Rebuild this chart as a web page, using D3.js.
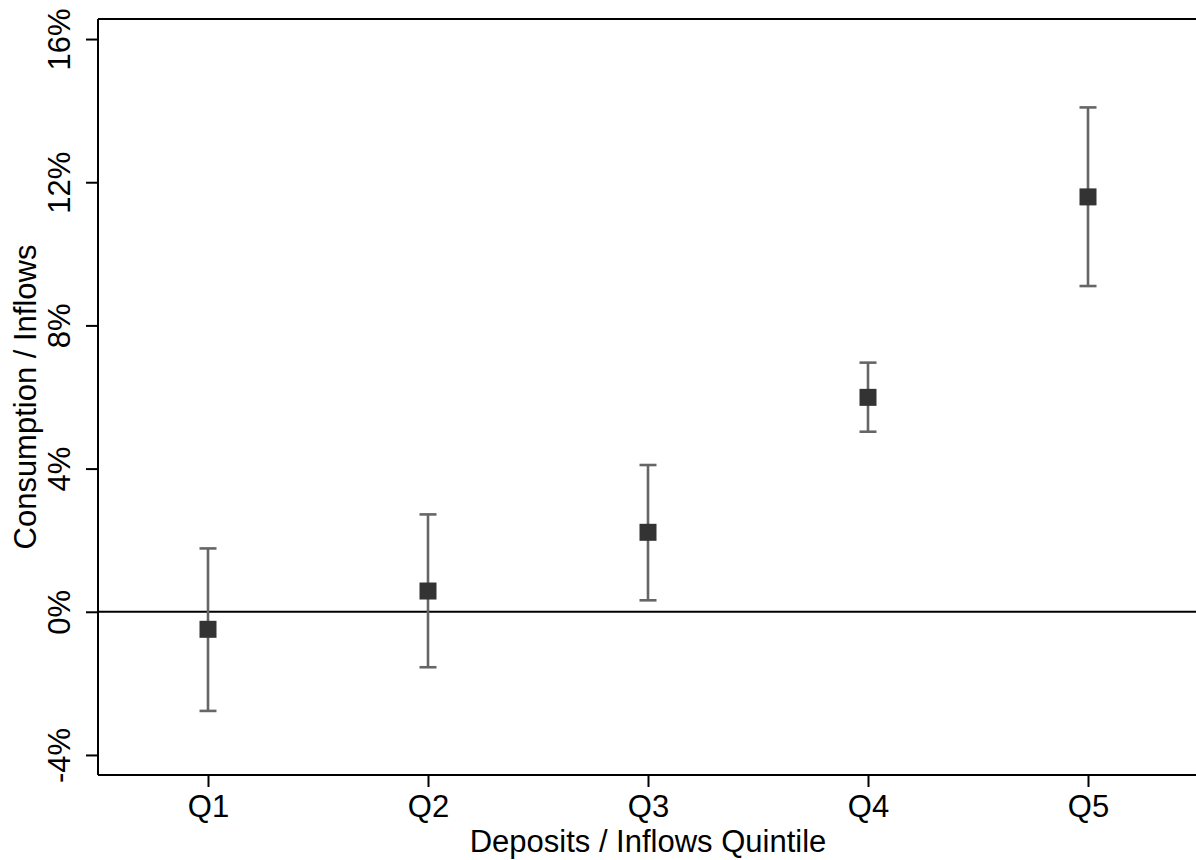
<!DOCTYPE html>
<html>
<head>
<meta charset="utf-8">
<script src="https://cdn.jsdelivr.net/npm/d3@7"></script>
<style>
  html, body { margin: 0; padding: 0; background: #fff; }
  svg { display: block; font-family: "Liberation Sans", Arial, sans-serif; }
</style>
</head>
<body>
<svg id="chart" width="1196" height="860"></svg>
<script>
// Quintiles of deposits / inflows, with point estimates and 95% CIs (in %)
const categories = ["Q1", "Q2", "Q3", "Q4", "Q5"];
const estimates  = [-0.49, 0.58, 2.22, 5.99, 11.59];
const ciLower    = [-2.77, -1.55, 0.32, 5.03, 9.10];
const ciUpper    = [1.77, 2.72, 4.10, 6.96, 14.09];
const yTicks     = [-4, 0, 4, 8, 12, 16];

const svg = d3.select("#chart");
const plot = { left: 98, right: 1198, top: 19, bottom: 775 };

const x = d3.scaleLinear().domain([0.5, 5.5]).range([plot.left, plot.right]);
const y = d3.scaleLinear().domain([-4.56, 16.56]).range([plot.bottom, plot.top]);

const fontSize = 31;
const fontFamily = "Liberation Sans, Arial, sans-serif";

// Top border of the plot region
svg.append("line")
  .attr("x1", plot.left).attr("x2", plot.right)
  .attr("y1", plot.top).attr("y2", plot.top)
  .attr("stroke", "#000").attr("stroke-width", 2);

// Y axis
const yAxis = svg.append("g")
  .attr("transform", `translate(${plot.left},0)`)
  .call(d3.axisLeft(y).tickValues(yTicks).tickSize(12).tickSizeOuter(0)
        .tickFormat(d => d + "%"));
yAxis.select(".domain").attr("stroke", "#000").attr("stroke-width", 2)
  .attr("d", `M0,${plot.top}V${plot.bottom}`);
yAxis.selectAll(".tick line").attr("stroke", "#000").attr("stroke-width", 2);
yAxis.selectAll(".tick text")
  .attr("font-size", fontSize).attr("fill", "#000")
  .attr("font-family", fontFamily)
  .attr("x", null).attr("dy", null)
  .attr("text-anchor", "middle")
  .attr("transform", "translate(-28,0) rotate(-90)");

// X axis
const xAxis = svg.append("g")
  .attr("transform", `translate(0,${plot.bottom})`)
  .call(d3.axisBottom(x).tickValues(d3.range(1, categories.length + 1))
        .tickSize(12).tickSizeOuter(0)
        .tickFormat(d => categories[d - 1]));
xAxis.select(".domain").attr("stroke", "#000").attr("stroke-width", 2)
  .attr("d", `M${plot.left},0H${plot.right}`);
xAxis.selectAll(".tick line").attr("stroke", "#000").attr("stroke-width", 2);
xAxis.selectAll(".tick text")
  .attr("font-size", fontSize).attr("fill", "#000")
  .attr("font-family", fontFamily)
  .attr("y", 42).attr("dy", null);

// Zero reference line
svg.append("line")
  .attr("x1", plot.left).attr("x2", plot.right)
  .attr("y1", y(0)).attr("y2", y(0))
  .attr("stroke", "#000").attr("stroke-width", 2);

// Confidence intervals
const capHalf = 8.5;
const ci = svg.append("g").attr("stroke", "#666").attr("stroke-width", 2.6);
categories.forEach((c, i) => {
  const cx = x(i + 1);
  ci.append("line").attr("x1", cx).attr("x2", cx)
    .attr("y1", y(ciLower[i])).attr("y2", y(ciUpper[i]));
  ci.append("line").attr("x1", cx - capHalf).attr("x2", cx + capHalf)
    .attr("y1", y(ciLower[i])).attr("y2", y(ciLower[i]));
  ci.append("line").attr("x1", cx - capHalf).attr("x2", cx + capHalf)
    .attr("y1", y(ciUpper[i])).attr("y2", y(ciUpper[i]));
});

// Point estimates
const sq = 17;
svg.append("g").selectAll("rect")
  .data(estimates)
  .join("rect")
  .attr("x", (d, i) => x(i + 1) - sq / 2)
  .attr("y", d => y(d) - sq / 2)
  .attr("width", sq).attr("height", sq)
  .attr("fill", "#333");

// Axis titles
svg.append("text")
  .attr("x", (plot.left + plot.right) / 2)
  .attr("y", 852)
  .attr("text-anchor", "middle")
  .attr("font-size", fontSize)
  .attr("font-family", fontFamily)
  .text("Deposits / Inflows Quintile");

svg.append("text")
  .attr("transform", `translate(36,${(plot.top + plot.bottom) / 2}) rotate(-90)`)
  .attr("text-anchor", "middle")
  .attr("font-size", fontSize)
  .attr("font-family", fontFamily)
  .text("Consumption / Inflows");
</script>
</body>
</html>
